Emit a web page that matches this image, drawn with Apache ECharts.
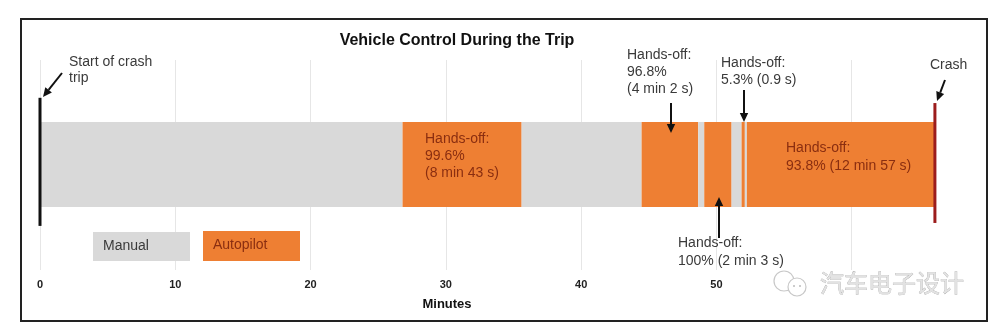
<!DOCTYPE html>
<html><head><meta charset="utf-8">
<script src="https://cdn.jsdelivr.net/npm/echarts@6/dist/echarts.min.js"></script>
<style>html,body{margin:0;padding:0;background:#fff}#c{width:1000px;height:334px}</style>
</head><body><div id="c"></div>
<script>
// ---- data ----
const segStart = [0, 26.8, 35.6, 44.47, 48.65, 49.1, 51.12, 51.86, 52.1, 52.25];
const segEnd   = [26.8, 35.6, 44.47, 48.65, 49.1, 51.12, 51.86, 52.1, 52.25, 66.15];
const segMode  = ['Manual','Autopilot','Manual','Autopilot','Manual','Autopilot','Manual','Autopilot','Manual','Autopilot'];
const eventNames = ['Start of crash trip', 'Crash'];
const eventTimes = [0, 66.15];
const xTickLabels = [0, 10, 20, 30, 40, 50];
const legendLabels = ['Manual', 'Autopilot'];

// ---- style ----
const FONT = '"Liberation Sans", Arial, sans-serif';
const ORANGE = '#ee7f33', GRAY = '#d9d9d9', DARKTXT = '#8a2e10', TXT = '#3a3a3a';
const BAND = [30, 70.5];
const EVENT_Y = [[21, 82], [22.4, 79.5]];
const EVENT_COLOR = ['#111111', '#9c1c1c'];

const chart = echarts.init(document.getElementById('c'), null, {renderer: 'canvas'});

function textLines(x, y, lines, color, size, lh, weight) {
  return lines.map((s, i) => ({
    type: 'text', x: x, y: y + i * lh, z: 20,
    style: {text: s, fill: color, font: (weight || 'normal') + ' ' + size + 'px ' + FONT,
      align: 'left', verticalAlign: 'middle'}
  }));
}
function arrow(x0, y0, x1, y1) {
  const dx = x1 - x0, dy = y1 - y0, L = Math.sqrt(dx*dx + dy*dy);
  const ux = dx / L, uy = dy / L, h = 9, w = 4.2;
  const bx = x1 - ux * h, by = y1 - uy * h;
  return [
    {type: 'line', z: 20, shape: {x1: x0, y1: y0, x2: bx, y2: by}, style: {stroke: '#111', lineWidth: 2}},
    {type: 'polygon', z: 20, shape: {points: [[x1, y1], [bx - uy * w, by + ux * w], [bx + uy * w, by - ux * w]]}, style: {fill: '#111'}}
  ];
}

let g = [];
// border
g.push({type: 'rect', z: 30, shape: {x: 21, y: 19, width: 966, height: 302}, style: {fill: 'none', stroke: '#222', lineWidth: 2}});
// title
g.push({type: 'text', x: 457, y: 41, z: 20, style: {text: 'Vehicle Control During the Trip', fill: '#111', font: 'bold 16px ' + FONT, align: 'center', verticalAlign: 'middle'}});
// axis name
g.push({type: 'text', x: 447, y: 304, z: 20, style: {text: 'Minutes', fill: '#111', font: 'bold 13px ' + FONT, align: 'center', verticalAlign: 'middle'}});
// annotations
g = g.concat(textLines(69, 62, ['Start of crash', 'trip'], TXT, 14, 16));
g = g.concat(arrow(62, 73, 43, 97));
g = g.concat(textLines(425, 139, ['Hands-off:', '99.6%', '(8 min 43 s)'], DARKTXT, 14, 17));
g = g.concat(textLines(627, 55, ['Hands-off:', '96.8%', '(4 min 2 s)'], TXT, 14, 17));
g = g.concat(arrow(671, 103, 671, 133));
g = g.concat(textLines(721, 63, ['Hands-off:', '5.3% (0.9 s)'], TXT, 14, 17));
g = g.concat(arrow(744, 90, 744, 122));
g = g.concat(textLines(930, 65, ['Crash'], TXT, 14, 17));
g = g.concat(arrow(945, 80, 937, 101));
g = g.concat(textLines(786, 148, ['Hands-off:', '93.8% (12 min 57 s)'], DARKTXT, 14, 18.5));
g = g.concat(textLines(678, 243, ['Hands-off:', '100% (2 min 3 s)'], TXT, 14, 18.5));
g = g.concat(arrow(719, 238, 719, 197));
// legend
g.push({type: 'rect', z: 15, shape: {x: 93, y: 232, width: 97, height: 29}, style: {fill: GRAY}});
g.push({type: 'rect', z: 15, shape: {x: 203, y: 231, width: 97, height: 30}, style: {fill: ORANGE}});
g = g.concat(textLines(103, 246, [legendLabels[0]], TXT, 14, 17));
g = g.concat(textLines(213, 245, [legendLabels[1]], DARKTXT, 14, 17));
// watermark
g.push({type: 'rect', z: 18, shape: {x: 766, y: 272, width: 205, height: 24}, style: {fill: '#fff'}});
g.push({type: 'circle', z: 19, shape: {cx: 784, cy: 281, r: 10}, style: {fill: 'none', stroke: '#c8c8c8', lineWidth: 1.2}});
g.push({type: 'circle', z: 19, shape: {cx: 797, cy: 287, r: 9}, style: {fill: '#fff', stroke: '#c8c8c8', lineWidth: 1.2}});
g.push({type: 'circle', z: 19, shape: {cx: 794, cy: 286, r: 1}, style: {fill: '#bbb'}});
g.push({type: 'circle', z: 19, shape: {cx: 800, cy: 286, r: 1}, style: {fill: '#bbb'}});
g.push({type: 'text', x: 820, y: 283, z: 20, style: {text: '汽车电子设计', fill: '#e2e2e2', stroke: '#9a9a9a', lineWidth: 0.5, font: '24px "Noto Sans CJK SC", sans-serif', align: 'left', verticalAlign: 'middle'}});

const option = {
  animation: false,
  backgroundColor: '#fff',
  grid: {left: 40, right: 13, top: 60, bottom: 64},
  xAxis: {
    type: 'value', min: 0, max: 70, interval: 10,
    axisLine: {show: false}, axisTick: {show: false},
    splitLine: {show: true, lineStyle: {color: '#e6e6e6', width: 1}},
    axisLabel: {margin: 9, fontFamily: FONT, fontWeight: 'bold', fontSize: 11, color: '#222',
      formatter: v => xTickLabels.indexOf(v) >= 0 ? String(v) : ''}
  },
  yAxis: {type: 'value', min: 0, max: 100, show: false},
  series: [
    {
      type: 'custom', z: 5,
      data: segStart.map((s, i) => [s, segEnd[i], segMode[i] === 'Manual' ? 0 : 1]),
      encode: {x: [0, 1]},
      renderItem: (params, api) => {
        const a = api.coord([api.value(0), BAND[1]]);
        const b = api.coord([api.value(1), BAND[0]]);
        return {type: 'rect', shape: {x: a[0], y: a[1], width: b[0] - a[0], height: b[1] - a[1]},
          style: {fill: api.value(2) ? ORANGE : GRAY}};
      }
    },
    {
      type: 'custom', z: 8,
      data: eventTimes.map((t, i) => [t, i]),
      encode: {x: 0},
      renderItem: (params, api) => {
        const i = api.value(1);
        const a = api.coord([api.value(0), EVENT_Y[i][1]]);
        const b = api.coord([api.value(0), EVENT_Y[i][0]]);
        return {type: 'line', shape: {x1: a[0], y1: a[1], x2: b[0], y2: b[1]},
          style: {stroke: EVENT_COLOR[i], lineWidth: 3}};
      }
    }
  ],
  graphic: g
};
chart.setOption(option);
</script>
</body></html>
